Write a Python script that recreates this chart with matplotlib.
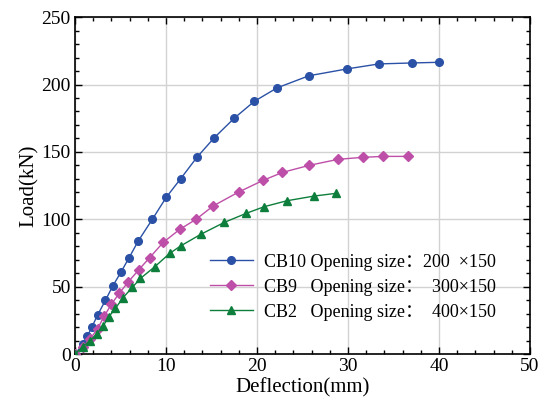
import matplotlib
matplotlib.use("Agg")
import matplotlib.pyplot as plt
from matplotlib.ticker import MultipleLocator

plt.rcParams['font.family'] = ['Liberation Serif', 'Noto Sans CJK SC', 'DejaVu Sans']
plt.rcParams['mathtext.fontset'] = 'stix'

cb10_x = [0, 0.85, 1.36, 1.88, 2.5, 3.35, 4.15, 5.07, 5.93, 6.96, 8.5, 10.05, 11.6, 13.4, 15.3, 17.5, 19.7, 22.2, 25.7, 29.9, 33.4, 37.0, 40.0]
cb10_y = [0, 7.3, 13.4, 20.3, 29.2, 39.9, 50.5, 61, 71.3, 84, 100, 116.5, 130, 146, 160.5, 175, 187.5, 197.5, 206.5, 211.6, 215.3, 216, 216.5]

cb9_x = [0, 0.9, 1.7, 2.5, 3.2, 4.0, 4.85, 5.85, 7.0, 8.2, 9.7, 11.5, 13.3, 15.2, 18.0, 20.7, 22.8, 25.7, 28.9, 31.6, 33.9, 36.6]
cb9_y = [0, 5.5, 11.5, 19, 28, 37, 45, 53.5, 62.5, 71.5, 82.9, 92.5, 100, 110, 120.3, 129, 134.8, 140, 144.5, 146, 146.7, 146.7]

cb2_x = [0, 0.85, 1.6, 2.4, 3.1, 3.7, 4.45, 5.3, 6.3, 7.2, 8.8, 10.4, 11.6, 13.8, 16.4, 18.8, 20.8, 23.3, 26.3, 28.7]
cb2_y = [0, 5.5, 9.5, 15, 21, 27.5, 34, 42, 49.5, 56.2, 65, 74.7, 80.2, 88.8, 97.7, 104.4, 109.4, 113.8, 117.3, 119.3]

labels = ["CB10 Opening size：200  ×150",
          "CB9   Opening size：  300×150",
          "CB2   Opening size：  400×150"]

fig = plt.figure(figsize=(5.47, 4.08), dpi=100)
ax = fig.add_axes([0.137, 0.132, 0.832, 0.826])

ax.plot(cb10_x, cb10_y, '-o', color='#2B51A6', lw=1.0, ms=5.5, label=labels[0], zorder=3)
ax.plot(cb9_x, cb9_y, '-D', color='#BE4FA8', lw=1.0, ms=5.2, label=labels[1], zorder=3)
ax.plot(cb2_x, cb2_y, '-^', color='#0D7E3C', lw=1.0, ms=6.0, label=labels[2], zorder=3)

ax.set_xlim(0, 50)
ax.set_ylim(0, 250)
ax.xaxis.set_major_locator(MultipleLocator(10))
ax.xaxis.set_minor_locator(MultipleLocator(2))
ax.yaxis.set_major_locator(MultipleLocator(50))
ax.yaxis.set_minor_locator(MultipleLocator(10))
ax.grid(True, which='major', color='#d2d2d2', lw=1.0, zorder=0)
ax.set_axisbelow(True)
ax.tick_params(which='both', direction='in', top=True, right=True, labelsize=14, width=1.0, pad=3)
ax.tick_params(which='major', length=5)
ax.tick_params(which='minor', length=3)
for s in ax.spines.values():
    s.set_linewidth(1.2)

ax.set_xlabel("Deflection(mm)", fontsize=15, labelpad=2)
ax.set_ylabel("Load(kN)", fontsize=15, labelpad=2)

ax.legend(loc='upper left', bbox_to_anchor=(0.28, 0.32), frameon=False, fontsize=13,
          handlelength=2.4, labelspacing=0.45, handletextpad=0.6, borderaxespad=0)

fig.savefig("out.png", dpi=100)
